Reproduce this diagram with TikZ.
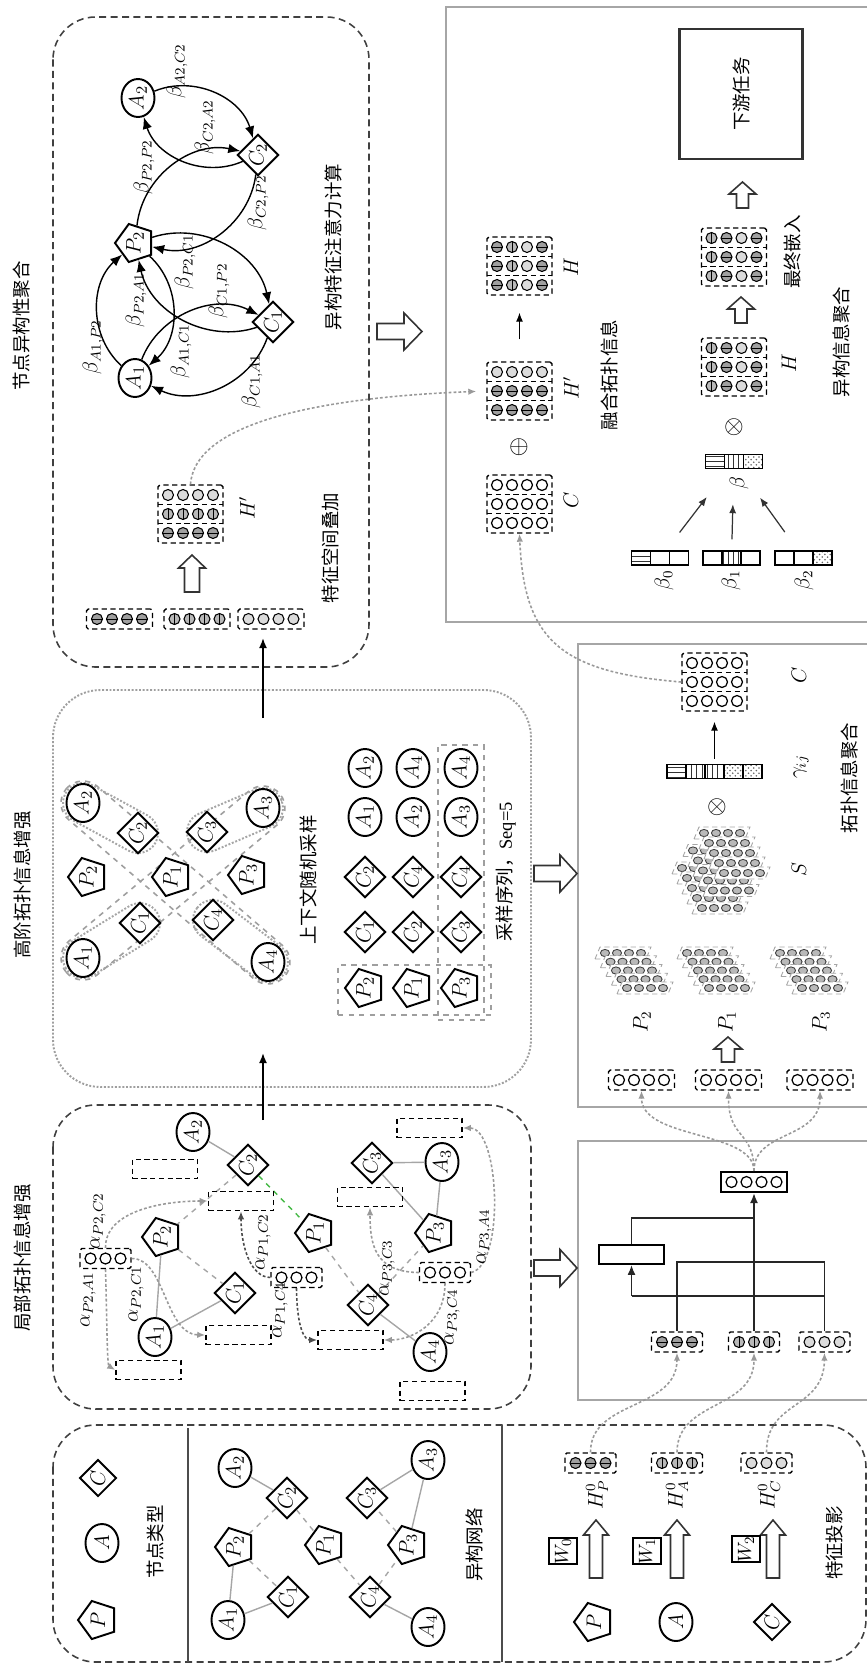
\documentclass[tikz,border=0pt]{standalone}
\usepackage{amsmath}
\usepackage{fontspec}
\setmainfont{Liberation Serif}
\newfontfamily\cjk{Noto Sans CJK SC}
\usetikzlibrary{arrows.meta,calc,shapes.geometric,patterns}

% row of small balls: x, y(page), n, types
\newcommand\balls[4]{%
  \foreach \bt [count=\i] in {#4}{%
    \pgfmathsetmacro\bx{#1+(\i-(#3+1)/2)*15}%
    \path[ball\bt] (\bx,#2) circle[radius=5.5];}}
% [style] name, x, y(image), n, types
\newcommand\vecbox[6][vbox]{%
  \node[#1, minimum width={(15*#5+6)*0.02cm}] (#2) at (#3,-#4) {};
  \balls{#3}{-#4}{#5}{#6}}
% name, x, y(image), three rows
\newcommand\matbox[6]{%
  \node[mbox] (#1) at (#2,-#3) {};
  \draw[densely dashed, line width=0.7pt] (#2-32.5,-#3+9.5) -- (#2+32.5,-#3+9.5)
    (#2-32.5,-#3-9.5) -- (#2+32.5,-#3-9.5);
  \balls{#2}{-#3+19}{4}{#4}\balls{#2}{-#3}{4}{#5}\balls{#2}{-#3-19}{4}{#6}}
% name, x, y(image), n, patterns
\newcommand\segvec[5]{%
  \node[sbox, minimum width={19*#4*0.02cm}] (#1) at (#2,-#3) {};
  \foreach \bt [count=\i] in {#5}{%
    \pgfmathsetmacro\sx{#2+(\i-(#4+1)/2)*19}%
    \draw[line width=0.7pt, seg\bt] (\sx-9.5,-#3-7) rectangle (\sx+9.5,-#3+7);}}
% one slanted layer of a stack
\newcommand\strip[2]{%
  \pgfmathsetmacro\stx{#1}\pgfmathsetmacro\sty{-(#2)}%
  \draw[sdash] (\stx-28,\sty-6) -- (\stx+23,\sty-6) -- (\stx+28,\sty+6) -- (\stx-23,\sty+6) -- cycle;
  \foreach \q in {0,1,2,3} \draw[sball] (\stx-18+\q*12,\sty) ellipse[x radius=4.6, y radius=3.6];}
\newcommand\pstack[2]{\foreach \k in {4,3,2,1,0}{\strip{#1-5.5*\k}{#2-8.75*\k}}}
% style, x1, y1, x2, y2, half width
\newcommand\capsule[6]{%
  \pgfmathsetmacro\cxm{(#2+#4)/2}%
  \pgfmathsetmacro\cym{-(#3+#5)/2}%
  \pgfmathsetmacro\cang{atan2(#3-#5,#4-#2)}%
  \pgfmathsetmacro\chl{veclen(#4-#2,#5-#3)/2+#6}%
  \pgfmathsetmacro\crr{#6*0.02}%
  \begin{scope}[shift={(\cxm,\cym)}, rotate=\cang]
    \draw[#1, rounded corners=\crr cm] (-\chl,-#6) rectangle (\chl,#6);
  \end{scope}}
% x, y(image), angle, length, shaft, head, head length
\newcommand\blockarrow[7]{%
  \begin{scope}[shift={(#1,-#2)}, rotate=#3]
    \draw[harrow] (-#4/2,#5/2) -- (#4/2-#7,#5/2) -- (#4/2-#7,#6/2) -- (#4/2,0)
      -- (#4/2-#7,-#6/2) -- (#4/2-#7,-#5/2) -- (-#4/2,-#5/2) -- cycle;
  \end{scope}}

\begin{document}
\begin{tikzpicture}[x=0.02cm, y=0.02cm,
    cn/.style={rotate=90, font=\cjk\fontsize{10.5}{12}\selectfont, inner sep=0pt},
    ml/.style={rotate=90, font=\fontsize{11.5}{13}\selectfont, inner sep=0pt},
    gnode/.style={draw, fill=white, line width=1.1pt, rotate=90, inner sep=0pt, font=\fontsize{13}{14}\selectfont},
    anode/.style={gnode, ellipse, minimum width=0.76cm, minimum height=0.66cm},
    pnode/.style={gnode, regular polygon, regular polygon sides=5, minimum size=0.8cm},
    cnode/.style={gnode, diamond, aspect=1, minimum size=0.74cm},
    vbox/.style={draw, densely dashed, line width=0.8pt, rounded corners=1pt, minimum height=0.4cm, inner sep=0pt},
    vboxs/.style={vbox, solid, line width=1.2pt, rounded corners=0pt},
    mbox/.style={draw, densely dashed, line width=0.8pt, rounded corners=1pt, minimum width=1.3cm, minimum height=1.16cm, inner sep=0pt},
    sbox/.style={draw, line width=0.8pt, minimum height=0.28cm, inner sep=0pt},
    ebox/.style={draw, densely dashed, line width=0.9pt, minimum width=1.3cm, minimum height=0.38cm, inner sep=0pt},
    selbox/.style={draw, dashed, gray!75, line width=0.9pt, inner sep=0pt},
    wbox/.style={draw, line width=1pt, fill=white, rotate=90, minimum width=0.46cm, minimum height=0.56cm, inner sep=0pt, font=\fontsize{11}{12}\selectfont},
    tbox/.style={draw=black!80, line width=1.4pt, rotate=90, minimum width=2.6cm, minimum height=2.46cm, font=\cjk\fontsize{10.5}{12}\selectfont},
    ballP/.style={draw, line width=0.6pt, fill=gray!75, path picture={\draw[line width=0.5pt] (path picture bounding box.west) -- (path picture bounding box.east);}},
    ballA/.style={draw, line width=0.6pt, fill=gray!55, path picture={\draw[line width=0.5pt] (path picture bounding box.north) -- (path picture bounding box.south);}},
    ballC/.style={draw, line width=0.6pt, fill=gray!28},
    ballE/.style={draw, line width=0.7pt, fill=white},
    segh/.style={pattern=horizontal lines, pattern color=black!80},
    segv/.style={pattern=vertical lines, pattern color=black!80},
    segd/.style={pattern=crosshatch dots, pattern color=black!60},
    sege/.style={},
    sdash/.style={densely dashed, gray!70, fill=white, line width=0.5pt},
    sball/.style={draw=black!75, fill=gray!55, line width=0.5pt},
    walkcap/.style={dashed, gray!75, line width=0.9pt},
    blob/.style={densely dotted, gray!70, line width=1.1pt},
    eA/.style={gray!70, line width=0.8pt},
    eP/.style={gray!70, dashed, line width=0.8pt},
    eG/.style={green!45!gray, dashed, line width=0.8pt},
    att/.style={-{Latex[length=2.4mm,width=1.9mm]}, line width=0.8pt},
    barr/.style={-{Latex[length=2mm,width=1.6mm]}, line width=1pt},
    tarr/.style={-{Latex[length=1.8mm,width=1.4mm]}, line width=0.7pt},
    dotarr/.style={-{Latex[length=1.6mm,width=1.3mm]}, gray!80, line width=0.9pt, dash pattern=on 1.6pt off 1.2pt},
    ddarr/.style={dotarr, black!70},
    tree/.style={line width=1pt, black!85},
    treearr/.style={tree, -{Latex[length=2mm,width=1.6mm]}},
    dbox/.style={dash pattern=on 4pt off 2.5pt, black!75, line width=0.9pt, rounded corners=0.85cm},
    obox/.style={densely dotted, gray!75, line width=1.1pt, rounded corners=0.95cm},
    frame/.style={gray!70, line width=1.1pt},
    harrow/.style={draw=black!80, fill=white, line width=0.9pt},
    op/.style={inner sep=0pt, font=\fontsize{15}{15}\selectfont},
]
\useasboundingbox (0,0) rectangle (867,-1664);

% frames
\draw[dbox] (53,-17) rectangle (369,-667);
\draw[obox] (53,-690) rectangle (531,-1087);
\draw[dbox] (53,-1105) rectangle (531,-1409);
\draw[dbox] (53,-1425) rectangle (866,-1662);
\draw[frame] (867,-7) -- (446,-7) -- (446,-622) -- (867,-622);
\draw[frame] (867,-644) -- (578,-644) -- (578,-1107) -- (867,-1107);
\draw[frame] (867,-1141) -- (578,-1141) -- (578,-1400) -- (867,-1400);
\draw[black!70, line width=0.9pt] (188,-1428) -- (188,-1662) (502,-1425) -- (502,-1662);

\node[cn] (ttl1) at (22,-326) {节点异构性聚合};
\node[cn] (ttl2) at (22,-885) {高阶拓扑信息增强};
\node[cn] (ttl3) at (22,-1258) {局部拓扑信息增强};

% node heterogeneity attention
\node[anode] (aA1) at (135,-378) {$A_1$};
\node[pnode] (aP2) at (135,-243) {$P_2$};
\node[anode] (aA2) at (138,-98) {$A_2$};
\node[cnode] (aC2) at (258,-155) {$C_2$};
\node[cnode] (aC1) at (273,-322) {$C_1$};
\foreach \u/\v in {aA1/aP2, aP2/aA1, aA1/aC1, aC1/aA1, aP2/aC1, aC1/aP2, aP2/aC2, aC2/aP2, aA2/aC2, aC2/aA2}
  \draw[att] (\u) to[bend left=48] (\v);
\node[ml] (bAP) at (93,-347) {$\beta_{A1,P2}$};
\node[ml] (bPA) at (136,-300) {$\beta_{P2,A1}$};
\node[ml] (bAC) at (181,-351) {$\beta_{A1,C1}$};
\node[ml] (bCA) at (252,-381) {$\beta_{C1,A1}$};
\node[ml] (bPC) at (185,-262) {$\beta_{P2,C1}$};
\node[ml] (bCP) at (219,-291) {$\beta_{C1,P2}$};
\node[ml] (bPP) at (144,-167) {$\beta_{P2,P2}$};
\node[ml] (bCP2) at (258,-203) {$\beta_{C2,P2}$};
\node[ml] (bAC2) at (177,-71) {$\beta_{A2,C2}$};
\node[ml] (bCA2) at (205,-127) {$\beta_{C2,A2}$};
\node[cn] (txAtt) at (333,-247) {异构特征注意力计算};

\vecbox{hv1}{119.5}{619}{4}{P,P,P,P}
\vecbox{hv2}{197}{619}{4}{A,A,A,A}
\vecbox{hv3}{271}{619}{4}{C,C,C,C}
\blockarrow{192}{573.5}{90}{37}{15}{27}{13}
\matbox{hHp}{190.5}{514}{C,C,C,C}{A,A,A,A}{P,P,P,P}
\node[ml] (lHp) at (247,-508) {$H'$};
\node[cn] (txSum) at (330,-548) {特征空间叠加};
\blockarrow{399.5}{331.5}{0}{45}{16}{37}{18}

% heterogeneous aggregation
\node[tbox] (task) at (741,-94) {下游任务};
\blockarrow{742.5}{195}{90}{26}{12}{27}{12}
\matbox{hFin}{734}{257}{A,P,C,P}{A,P,C,P}{A,P,C,P}
\node[cn] (txFin) at (792,-252) {最终嵌入};
\blockarrow{741}{310}{90}{26}{12}{27}{12}
\matbox{hH2}{734}{367}{A,P,C,P}{A,P,C,P}{A,P,C,P}
\node[ml] (lH2) at (789,-363) {$H$};
\node[op] (mul1) at (734,-427) {$\otimes$};
\segvec{bet}{734}{461.5}{3}{h,v,d}
\node[ml] (lbet) at (739,-483) {$\beta$};
\segvec{bet0}{660}{558}{3}{h,e,e}
\segvec{bet1}{731.5}{558}{3}{e,v,e}
\segvec{bet2}{803.5}{558}{3}{e,e,d}
\node[ml] (lb0) at (664,-580) {$\beta_0$};
\node[ml] (lb1) at (731,-580) {$\beta_1$};
\node[ml] (lb2) at (804,-580) {$\beta_2$};
\draw[tarr, gray!40!black, shorten <=0.45cm, shorten >=0.7cm] (bet0) -- (bet);
\draw[tarr, gray!40!black, shorten <=0.22cm, shorten >=0.7cm] (bet1) -- (bet);
\draw[tarr, gray!40!black, shorten <=0.45cm, shorten >=0.7cm] (bet2) -- (bet);
\matbox{hC}{519.5}{504}{E,E,E,E}{E,E,E,E}{E,E,E,E}
\node[ml] (lC) at (571,-500) {$C$};
\node[op] (plus1) at (519,-447) {$\oplus$};
\matbox{hHp2}{519.5}{391}{C,C,C,C}{P,P,P,P}{P,P,P,P}
\node[ml] (lHp2) at (571,-388) {$H'$};
\matbox{hH}{519.5}{266}{P,A,C,P}{P,A,C,P}{P,A,C,P}
\node[ml] (lH) at (571,-267) {$H$};
\draw[tarr, shorten <=0.44cm, shorten >=0.34cm] (hHp2) -- (hH);
\node[cn] (txFuse) at (609,-375) {融合拓扑信息};
\node[cn] (txHet) at (841,-342) {异构信息聚合};
\draw[dotarr, shorten >=0.2cm] (hHp.north) .. controls (195,-420) and (330,-397) .. (hHp2.west);

% high-order topology
\capsule{walkcap}{83}{803}{268}{962}{22}
\capsule{walkcap}{83}{958}{263}{808}{22}
\capsule{blob}{83}{803}{138}{833}{20}
\capsule{blob}{83}{958}{140}{923}{20}
\capsule{blob}{207}{832}{263}{808}{20}
\capsule{blob}{213}{920}{268}{962}{20}
\node[anode] (gA2) at (83,-803) {$A_2$};
\node[cnode] (gC2) at (138,-833) {$C_2$};
\node[cnode] (gC3) at (207,-832) {$C_3$};
\node[anode] (gA3) at (263,-808) {$A_3$};
\node[pnode] (gP2) at (88,-877) {$P_2$};
\node[pnode] (gP1) at (172,-877) {$P_1$};
\node[pnode] (gP3) at (248,-875) {$P_3$};
\node[cnode] (gC1) at (140,-923) {$C_1$};
\node[cnode] (gC4) at (213,-920) {$C_4$};
\node[anode] (gA1) at (83,-958) {$A_1$};
\node[anode] (gA4) at (268,-962) {$A_4$};
\node[cn] (txCtx) at (308,-880) {上下文随机采样};
\node[selbox, minimum width=3.06cm, minimum height=1cm] (selP) at (414.5,-990) {};
\node[selbox, minimum width=0.92cm, minimum height=5.5cm] (selR) at (461,-882.5) {};
\foreach \yy/\sh/\la/\lb/\lc in {768/anode/A_2/A_4/A_4, 817/anode/A_1/A_2/A_3, 877/cnode/C_2/C_4/C_4, 932/cnode/C_1/C_2/C_3, 988/pnode/P_2/P_1/P_3}{
  \node[\sh] (sa\yy) at (365,-\yy) {$\la$};
  \node[\sh] (sb\yy) at (413,-\yy) {$\lb$};
  \node[\sh] (sc\yy) at (461,-\yy) {$\lc$};}
\node[rotate=90, inner sep=0pt, font=\fontsize{10.5}{12}\selectfont] (txSeq) at (506,-872) {{\cjk 采样序列，}Seq=5};
\blockarrow{555.5}{873.5}{0}{43}{16}{37}{17}
\coordinate (b2o) at (263,-718);
\coordinate (b1i) at (263,-638);
\draw[barr] (b2o) -- (b1i);

% topology aggregation
\matbox{tC}{714.5}{682}{E,E,E,E}{E,E,E,E}{E,E,E,E}
\node[ml] (ltC) at (799,-675) {$C$};
\segvec{gam}{714.5}{771.5}{5}{h,v,v,d,d}
\node[ml] (lgam) at (801,-767) {$\gamma_{ij}$};
\draw[tarr, shorten <=0.1cm, shorten >=0.2cm] (gam) -- (tC);
\node[op] (mul2) at (717,-807) {$\otimes$};
\foreach \k in {4,3,2,1,0}{\foreach \rr in {0,1,2}{\strip{742-11*\rr-5*\k}{873+17.5*\rr-10*\k}}}
\node[ml] (lS) at (799,-870) {$S$};
\pstack{645}{988}
\pstack{727}{988}
\pstack{820}{988}
\node[ml] (lP2) at (642,-1022) {$P_2$};
\node[ml] (lP1) at (727,-1022) {$P_1$};
\node[ml] (lP3) at (821,-1022) {$P_3$};
\blockarrow{728}{1049.5}{90}{25}{13}{28}{12}
\vecbox{tv1}{641.5}{1080}{4}{E,E,E,E}
\vecbox{tv2}{728.5}{1080}{4}{E,E,E,E}
\vecbox{tv3}{820}{1080}{4}{E,E,E,E}
\node[cn] (txTop) at (849,-778) {拓扑信息聚合};
\draw[dotarr] (tC.west) .. controls (560,-672) and (524,-640) .. (hC.south);

% feature fusion
\vecbox[vboxs]{out}{754}{1182}{4}{E,E,E,E}
\node[draw, line width=1pt, minimum width=1.3cm, minimum height=0.38cm, inner sep=0pt] (pool) at (631.5,-1254.5) {};
\vecbox{fv1}{677}{1342}{3}{P,P,P}
\vecbox{fv2}{754}{1342}{3}{A,A,A}
\vecbox{fv3}{824.5}{1342}{3}{C,C,C}
\coordinate (ja) at (631.5,-1296);
\coordinate (jb) at (824.5,-1296);
\coordinate (jc) at (677,-1262);
\coordinate (jd) at (824.5,-1262);
\coordinate (je) at (631.5,-1218);
\coordinate (jf) at (754,-1218);
\draw[tree] (fv3.north) -- (jd) -- (jc) -- (fv1.north);
\draw[tree] (jb) -- (ja);
\draw[treearr] (ja) -- (pool.south);
\draw[tree] (pool.north) -- (je) -- (jf);
\draw[treearr] (fv2.north) -- (out.south);
\draw[dotarr] (out.north) .. controls (754,-1130) and (641.5,-1140) .. (tv1.south);
\draw[dotarr] (out.north) .. controls (754,-1130) and (728.5,-1140) .. (tv2.south);
\draw[dotarr] (out.north) .. controls (754,-1130) and (820,-1140) .. (tv3.south);

% local topology
\node[anode] (lA2) at (193,-1132) {$A_2$};
\node[cnode] (lC2) at (248,-1165) {$C_2$};
\node[pnode] (lP2n) at (162,-1237) {$P_2$};
\node[cnode] (lC1) at (235,-1293) {$C_1$};
\node[anode] (lA1) at (155,-1337) {$A_1$};
\node[pnode] (lP1n) at (315,-1233) {$P_1$};
\node[cnode] (lC3) at (372,-1163) {$C_3$};
\node[anode] (lA3) at (442,-1162) {$A_3$};
\node[pnode] (lP3n) at (435,-1233) {$P_3$};
\node[cnode] (lC4) at (368,-1305) {$C_4$};
\node[anode] (lA4) at (430,-1352) {$A_4$};
\draw[eA] (lA2) -- (lC2);
\draw[eP] (lC2) -- (lP2n);
\draw[eA] (lP2n) -- (lA1);
\draw[eP] (lP2n) -- (lC1);
\draw[eA] (lC1) -- (lA1);
\draw[eG] (lC2) -- (lP1n);
\draw[eP] (lP1n) -- (lC4);
\draw[eP] (lC4) -- (lP3n);
\draw[eA] (lC4) -- (lA4);
\draw[eA] (lP3n) -- (lC3);
\draw[eA] (lC3) -- (lA3);
\draw[eA] (lP3n) -- (lA3);
\node[ebox] (lr1) at (165,-1169) {};
\node[ebox] (lr2) at (241,-1201) {};
\node[ebox] (lr3) at (238.5,-1335) {};
\node[ebox] (lr4) at (148.5,-1370) {};
\node[ebox] (lr5) at (429.5,-1128) {};
\node[ebox] (lr6) at (370,-1197) {};
\node[ebox] (lr7) at (350.5,-1340) {};
\node[ebox] (lr8) at (432.5,-1391) {};
\vecbox{lv2}{105.5}{1258.5}{3}{E,E,E}
\vecbox{lv1}{296.5}{1277.5}{3}{E,E,E}
\vecbox{lv3}{445}{1272.5}{3}{E,E,E}
\draw[dotarr] (lv2.north) .. controls (105,-1212) and (160,-1201) .. (lr2.west);
\draw[dotarr] (lv2.east) .. controls (165,-1258) and (165,-1334) .. (lr3.west);
\draw[dotarr] (lv2.south) .. controls (107,-1320) and (107,-1365) .. (lr4.west);
\draw[ddarr] (lv1.west) .. controls (250,-1277) and (241,-1245) .. (lr2.south);
\draw[ddarr] (lv1.south) .. controls (297,-1330) and (305,-1340) .. (lr7.west);
\draw[dotarr] (lv3.west) .. controls (375,-1272) and (370,-1245) .. (lr6.south);
\draw[dotarr] (lv3.east) .. controls (505,-1265) and (500,-1128) .. (lr5.east);
\draw[dotarr] (lv3.south) .. controls (445,-1325) and (410,-1340) .. (lr7.east);
\node[ml] (aPC2) at (98,-1221) {$\alpha_{P2,C2}$};
\node[ml] (aPA1) at (88,-1300) {$\alpha_{P2,A1}$};
\node[ml] (aPC1) at (136,-1294) {$\alpha_{P2,C1}$};
\node[ml] (aP1C2) at (263,-1242) {$\alpha_{P1,C2}$};
\node[ml] (aP1C4) at (280,-1310) {$\alpha_{P1,C4}$};
\node[ml] (aP3C3) at (387,-1268) {$\alpha_{P3,C3}$};
\node[ml] (aP3A4) at (484,-1237) {$\alpha_{P3,A4}$};
\node[ml] (aP3C4) at (452,-1317) {$\alpha_{P3,C4}$};
\blockarrow{555.5}{1268}{0}{43}{16}{37}{17}
\coordinate (b7o) at (263,-1120);
\coordinate (b2i) at (263,-1053);
\draw[barr] (b7o) -- (b2i);

% node types, network, projection
\node[cnode] (kC) at (98,-1478) {$C$};
\node[anode] (kA) at (102,-1543) {$A$};
\node[pnode] (kP) at (98,-1620) {$P$};
\node[cn] (txType) at (155,-1542) {节点类型};
\node[anode] (nA2) at (235,-1468) {$A_2$};
\node[cnode] (nC2) at (287,-1498) {$C_2$};
\node[pnode] (nP2) at (235,-1547) {$P_2$};
\node[cnode] (nC1) at (288,-1597) {$C_1$};
\node[anode] (nA1) at (228,-1620) {$A_1$};
\node[pnode] (nP1) at (325,-1545) {$P_1$};
\node[cnode] (nC3) at (367,-1498) {$C_3$};
\node[anode] (nA3) at (428,-1460) {$A_3$};
\node[pnode] (nP3) at (408,-1545) {$P_3$};
\node[cnode] (nC4) at (370,-1597) {$C_4$};
\node[anode] (nA4) at (428,-1627) {$A_4$};
\draw[eA] (nA2) -- (nC2);
\draw[eP] (nC2) -- (nP2);
\draw[eA] (nP2) -- (nA1);
\draw[eP] (nP2) -- (nC1);
\draw[eA] (nC1) -- (nA1);
\draw[eP] (nC2) -- (nP1);
\draw[eP] (nP1) -- (nC4);
\draw[eP] (nC4) -- (nP3);
\draw[eA] (nC4) -- (nA4);
\draw[eP] (nP3) -- (nC3);
\draw[eA] (nC3) -- (nA3);
\draw[eA] (nP3) -- (nA3);
\node[cn] (txNet) at (474,-1545) {异构网络};
\node[pnode] (fP) at (594,-1622) {$P$};
\node[anode] (fA) at (676,-1622) {$A$};
\node[cnode] (fC) at (772,-1622) {$C$};
\blockarrow{596}{1549}{90}{58}{13}{25}{15}
\blockarrow{677}{1549}{90}{58}{13}{25}{15}
\blockarrow{773}{1549}{90}{58}{13}{25}{15}
\node[wbox] (w0) at (563,-1551) {$W_0$};
\node[wbox] (w1) at (647,-1551) {$W_1$};
\node[wbox] (w2) at (746,-1549) {$W_2$};
\vecbox{h0P}{590.5}{1463}{3}{P,P,P}
\vecbox{h0A}{677}{1463}{3}{A,A,A}
\vecbox{h0C}{766.5}{1463}{3}{C,C,C}
\node[ml] (lh0P) at (597,-1495) {$H^0_P$};
\node[ml] (lh0A) at (677,-1495) {$H^0_A$};
\node[ml] (lh0C) at (769,-1495) {$H^0_C$};
\node[cn] (txProj) at (834,-1543) {特征投影};
\draw[dotarr] (h0P.north) .. controls (590,-1400) and (677,-1410) .. (fv1.south);
\draw[dotarr] (h0A.north) .. controls (677,-1400) and (754,-1410) .. (fv2.south);
\draw[dotarr] (h0C.north) .. controls (766,-1400) and (824,-1410) .. (fv3.south);
\end{tikzpicture}
\end{document}
